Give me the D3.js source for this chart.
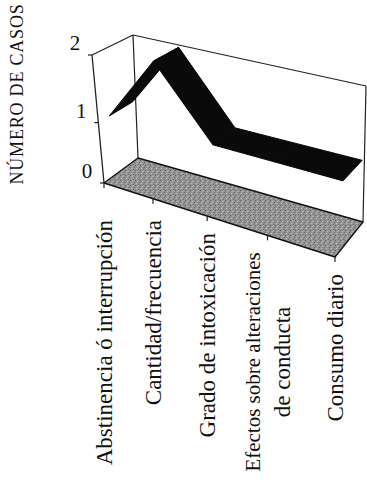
<!DOCTYPE html>
<html><head><meta charset="utf-8">
<script src="https://cdn.jsdelivr.net/npm/d3@7"></script>
<style>html,body{margin:0;padding:0;background:#fff;} svg{display:block;}</style>
</head><body>
<svg id="chart" width="367" height="482"></svg>
<script>
// ---- data ----
const categories = ["Abstinencia ó interrupción", "Cantidad/frecuencia", "Grado de intoxicación", "Efectos sobre alteraciones\nde conducta", "Consumo diario"];
const values = [1, 2, 1, 1, 1];
const yTicks = [0, 1, 2];
const yTitle = "NÚMERO DE CASOS";

// ---- layout: box corners on screen (unit cube -> screen) ----
const FLB = [104, 183], FRB = [335, 257], BRB = [363, 222], BLB = [138, 158];
const FLT = [92, 55], FRT = [333, 116], BRT = [366, 86], BLT = [133, 35];
const persp = 1.12;          // bottom-to-top depth ratio along verticals
const wFront = 0.28, wBack = 0.92; // ribbon depth range

function homography(q) {
  const [x0, y0] = q[0], [x1, y1] = q[1], [x2, y2] = q[2], [x3, y3] = q[3];
  const dx1 = x1 - x2, dx2 = x3 - x2, dx3 = x0 - x1 + x2 - x3;
  const dy1 = y1 - y2, dy2 = y3 - y2, dy3 = y0 - y1 + y2 - y3;
  const den = dx1 * dy2 - dx2 * dy1;
  const g = (dx3 * dy2 - dx2 * dy3) / den, h = (dx1 * dy3 - dx3 * dy1) / den;
  const a = x1 - x0 + g * x1, b = x3 - x0 + h * x3, c = x0;
  const d = y1 - y0 + g * y1, e = y3 - y0 + h * y3, f = y0;
  return (u, w) => { const z = g * u + h * w + 1; return [(a * u + b * w + c) / z, (d * u + e * w + f) / z]; };
}
const floorH = homography([FLB, FRB, BRB, BLB]);
const topH = homography([FLT, FRT, BRT, BLT]);
function P(u, w, t) {
  const pf = floorH(u, w), pt = topH(u, w);
  const k = (t / persp) / ((1 - t) + t / persp);
  return [pf[0] + (pt[0] - pf[0]) * k, pf[1] + (pt[1] - pf[1]) * k];
}

// ---- scales ----
const x = d3.scalePoint().domain(d3.range(categories.length)).range([0, 1]);
const y = d3.scaleLinear().domain([0, 2]).range([0, 1]);

const svg = d3.select("#chart");
const line = d3.line();
const serif = "'Liberation Serif','Times New Roman',serif";

// stipple pattern for the floor
const defs = svg.append("defs");
const pat = defs.append("pattern").attr("id", "stip").attr("patternUnits", "userSpaceOnUse")
  .attr("width", 5).attr("height", 5);
pat.append("rect").attr("width", 5).attr("height", 5).attr("fill", "#939393");
[[0,0,"#5e5e5e"],[2,1,"#b8b8b8"],[4,2,"#6a6a6a"],[1,3,"#c4c4c4"],[3,4,"#707070"],[3,0,"#a8a8a8"]].forEach(([px,py,c]) =>
  pat.append("rect").attr("x", px).attr("y", py).attr("width", 1).attr("height", 1).attr("fill", c));

// floor
svg.append("path")
  .attr("d", line([P(0,0,0), P(1,0,0), P(1,1,0), P(0,1,0)]) + "Z")
  .attr("fill", "url(#stip)").attr("stroke", "#111").attr("stroke-width", 1.4).attr("stroke-linejoin", "round");

// walls
const wall = [
  [P(0,0,1), P(0,1,1)],
  [P(0,1,0), P(0,1,1)],
  [P(0,1,1), P(1,1,1)],
  [P(1,1,1), P(1,1,0)]
];
svg.selectAll(".wall").data(wall).join("path").attr("class", "wall")
  .attr("d", d => line(d)).attr("fill", "none").attr("stroke", "#222").attr("stroke-width", 1.2);

// ribbon
const segs = d3.range(values.length - 1).map(i => [
  P(x(i), wFront, y(values[i])), P(x(i + 1), wFront, y(values[i + 1])),
  P(x(i + 1), wBack, y(values[i + 1])), P(x(i), wBack, y(values[i]))
]);
svg.selectAll(".rib").data(segs).join("path").attr("class", "rib")
  .attr("d", d => line(d) + "Z").attr("fill", "#0a0a0a").attr("stroke", "#0a0a0a")
  .attr("stroke-width", 1).attr("stroke-linejoin", "round");

// y axis (front-left edge)
svg.append("path").attr("d", line([P(0,0,0), P(0,0,1)])).attr("stroke", "#222").attr("stroke-width", 1.3).attr("fill", "none");
yTicks.forEach(v => {
  const p = P(0, 0, y(v));
  svg.append("line").attr("x1", p[0] - 4).attr("y1", p[1]).attr("x2", p[0]).attr("y2", p[1]).attr("stroke", "#222").attr("stroke-width", 1.2);
  svg.append("text").attr("x", p[0] - 17).attr("y", p[1] - 12).attr("dy", "0.35em")
    .attr("text-anchor", "middle").attr("font-family", serif).attr("font-size", 21).attr("fill", "#111").text(v);
});

// category ticks & labels
categories.forEach((c, i) => {
  const p = P(x(i), 0, 0);
  svg.append("line").attr("x1", p[0]).attr("y1", p[1]).attr("x2", p[0]).attr("y2", p[1] + 5).attr("stroke", "#222").attr("stroke-width", 1.2);
  const lines = c.split("\n");
  const top = Math.max(p[1] + 17, 220);
  const g = svg.append("g");
  const texts = lines.map((l, j) => g.append("text")
    .attr("font-family", serif).attr("font-size", lines.length > 1 && j === 0 ? 21 : 23)
    .attr("fill", "#111").attr("text-anchor", "middle").attr("dy", "0.35em").text(l));
  const maxLen = d3.max(texts, t => t.node().getComputedTextLength());
  const cy = top + maxLen / 2;
  texts.forEach((t, j) => {
    const cx = p[0] + (j - (lines.length - 1) / 2) * 29;
    t.attr("transform", `translate(${cx},${cy}) rotate(-90)`);
  });
});

// y title
svg.append("text").attr("transform", "translate(17,94) rotate(-90)").attr("dy", "0.35em")
  .attr("text-anchor", "middle").attr("font-family", serif).attr("font-size", 18)
  .attr("letter-spacing", 0.8).attr("fill", "#111").text(yTitle);
</script>
</body></html>
